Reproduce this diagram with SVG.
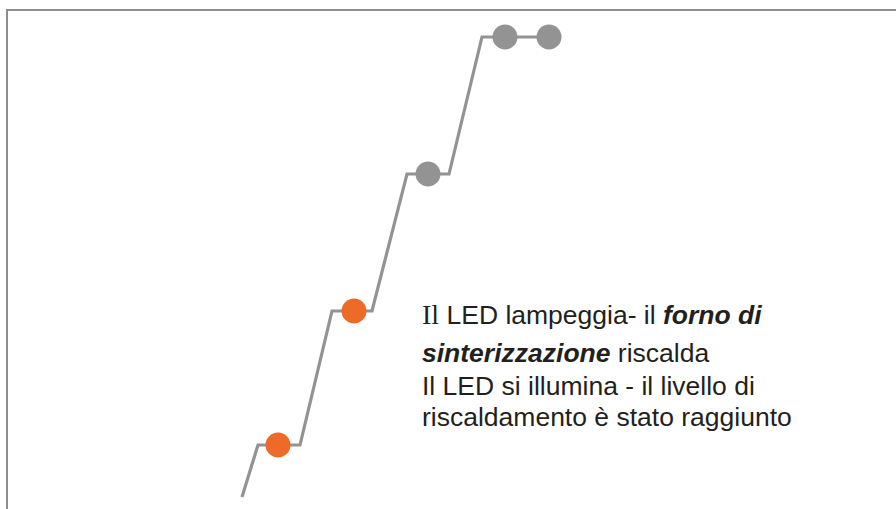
<svg xmlns="http://www.w3.org/2000/svg" width="896" height="509" viewBox="0 0 896 509">
<style>
.frame{fill:none;stroke:#8e8e8e;stroke-width:2}
.conn{fill:none;stroke:#939393;stroke-width:3.2;stroke-linejoin:miter}
.on{fill:#ee6a28}
.off{fill:#939393}
.t{font-family:"Liberation Sans",Arial,sans-serif;font-size:26.5px;fill:#231f20}
.serif{font-family:"Liberation Serif","Times New Roman",serif;font-size:28px}
.bi{font-weight:bold;font-style:italic}
</style>
<rect width="896" height="509" fill="#ffffff"/>
<path class="frame" d="M7,509 V10 H896"/>
<g id="connectors">
<polyline class="conn" points="242,497 258,445 300,445 332,311 372,311 407,174 449,174 482,37 550,37"/>
</g>
<g id="led1"><circle class="on" cx="278" cy="445" r="12.5"/></g>
<g id="led2"><circle class="on" cx="354" cy="311" r="12.5"/></g>
<g id="led3"><circle class="off" cx="428" cy="174" r="12.5"/></g>
<g id="led4"><circle class="off" cx="505" cy="37" r="12.5"/></g>
<g id="led5"><circle class="off" cx="549" cy="37" r="12.5"/></g>
<g id="label">
<text class="t" x="422" y="324"><tspan class="serif">Il</tspan> LED lampeggia- il <tspan class="bi">forno di</tspan></text>
<text class="t" x="422" y="362"><tspan class="bi">sinterizzazione</tspan> riscalda</text>
<text class="t" x="422" y="395">Il LED si illumina - il livello di</text>
<text class="t" x="422" y="426">riscaldamento è stato raggiunto</text>
</g>
</svg>
